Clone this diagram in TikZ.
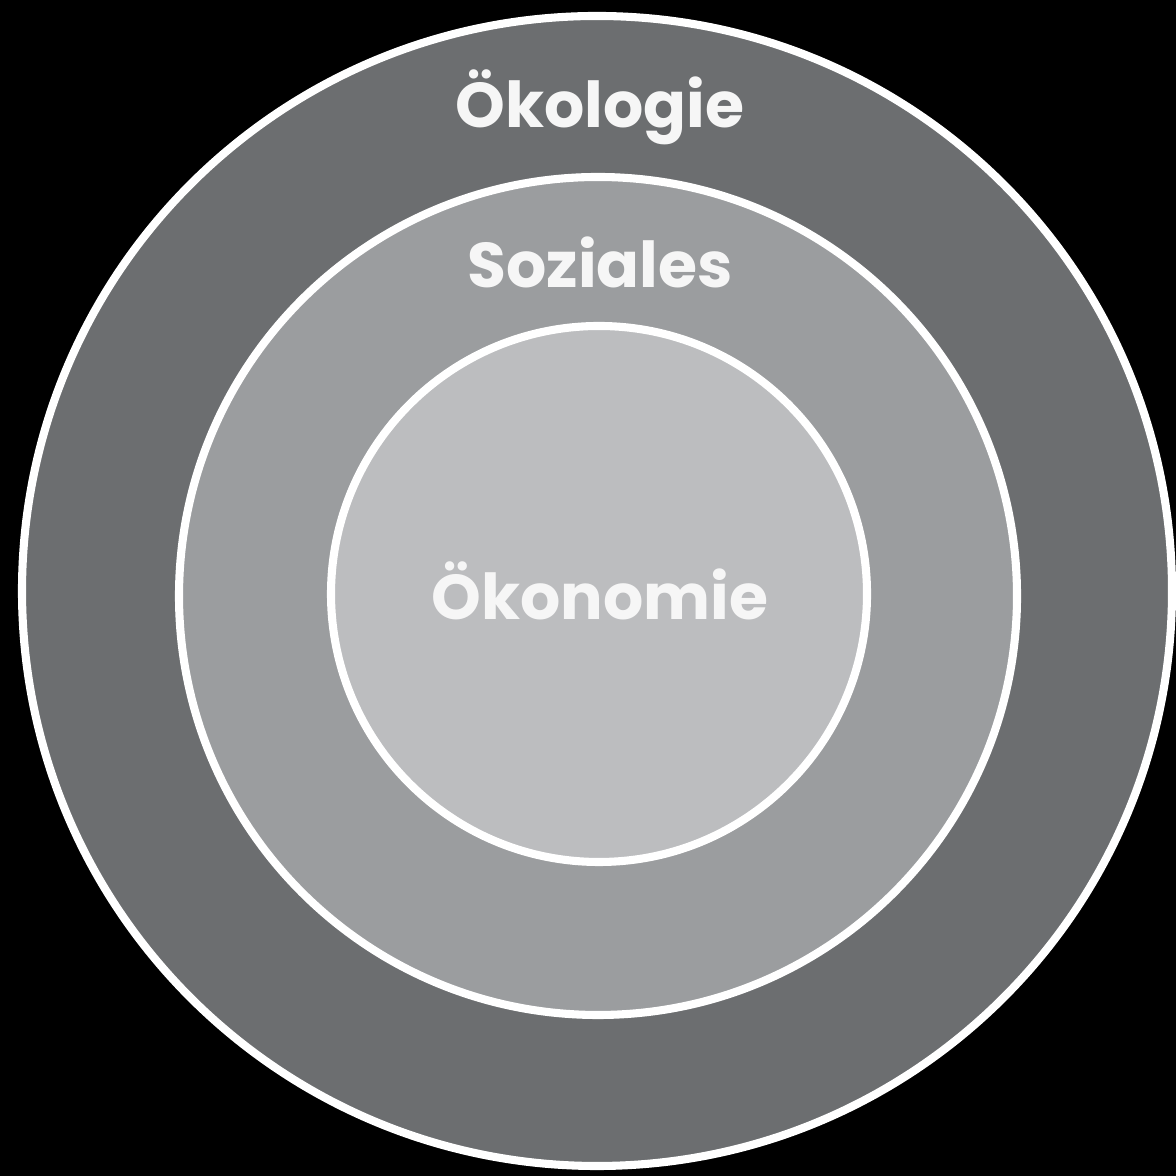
\documentclass[tikz,border=0pt]{standalone}
\usepackage{fontspec}
\setmainfont{Poppins}
\definecolor{ringdark}{RGB}{108,110,112}
\definecolor{ringmid}{RGB}{155,157,159}
\definecolor{ringlight}{RGB}{188,189,191}
\definecolor{labelwhite}{RGB}{246,246,246}
\tikzset{
    ring/.style={draw=white, line width=2.3pt},
    ringlabel/.style={text=labelwhite, font=\fontsize{18}{21}\selectfont\bfseries, anchor=base, inner sep=0pt}
}
\begin{document}
\begin{tikzpicture}
    \useasboundingbox (0,0) rectangle (11.76,11.76);
    \fill[black] (0,0) rectangle (11.76,11.76);

    \coordinate (Ceco) at (5.97,5.85);
    \coordinate (Csoz) at (5.98,5.80);
    \coordinate (Ckon) at (5.99,5.82);

    \draw[ring, fill=ringdark] (Ceco) circle (5.75);
    \draw[ring, fill=ringmid] (Csoz) circle (4.19);
    \draw[ring, fill=ringlight] (Ckon) circle (2.68);

    \node[ringlabel] (oekologie) at (6.00,10.48) {Ökologie};
    \node[ringlabel] (soziales) at (6.00,8.88) {Soziales};
    \node[ringlabel] (oekonomie) at (6.00,5.56) {Ökonomie};
\end{tikzpicture}
\end{document}
